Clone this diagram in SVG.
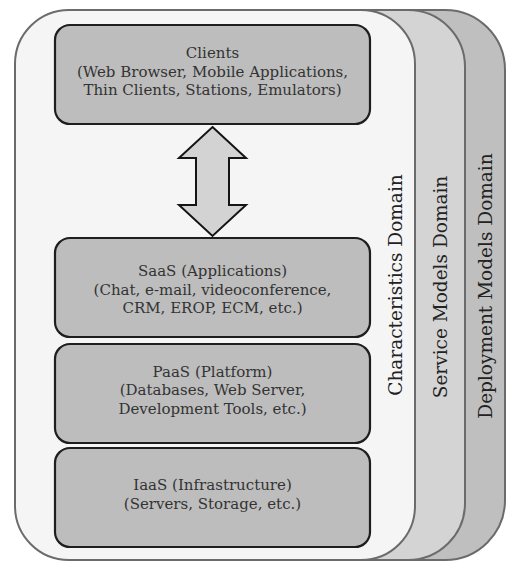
<svg xmlns="http://www.w3.org/2000/svg" width="507" height="562" viewBox="0 0 507 562">
<style>
.panel{stroke:#6b6b6b;stroke-width:2}
.box{fill:#bdbdbd;stroke:#1e1e1e;stroke-width:2.2}
.t{font-family:"DejaVu Serif","Liberation Serif",serif;font-size:15px;fill:#333;text-anchor:middle}
.v{font-family:"DejaVu Serif","Liberation Serif",serif;font-size:18.5px;fill:#222;text-anchor:middle}
</style>
<g id="deployment-domain">
<rect class="panel" x="100" y="10" width="405" height="550" rx="60" ry="60" fill="#bfbfbf"/>
<text class="v" transform="translate(492,286) rotate(-90)">Deployment Models Domain</text>
</g>
<g id="service-domain">
<rect class="panel" x="60" y="10" width="405" height="550" rx="57" ry="57" fill="#d4d4d4"/>
<text class="v" transform="translate(447,287) rotate(-90)">Service Models Domain</text>
</g>
<g id="characteristics-domain">
<rect class="panel" x="15" y="10" width="400" height="550" rx="54" ry="54" fill="#f5f5f5"/>
<text class="v" transform="translate(402,285) rotate(-90)">Characteristics Domain</text>
</g>
<g id="clients">
<rect class="box" x="55" y="25" width="315" height="99" rx="15" ry="15"/>
<text class="t" x="212.5" y="58">Clients</text>
<text class="t" x="212.5" y="77">(Web Browser, Mobile Applications,</text>
<text class="t" x="212.5" y="95">Thin Clients, Stations, Emulators)</text>
</g>
<g id="saas">
<rect class="box" x="55" y="238" width="315" height="99" rx="15" ry="15"/>
<text class="t" x="212.5" y="276">SaaS (Applications)</text>
<text class="t" x="212.5" y="295">(Chat, e-mail, videoconference,</text>
<text class="t" x="212.5" y="313">CRM, EROP, ECM, etc.)</text>
</g>
<g id="paas">
<rect class="box" x="55" y="344" width="315" height="99" rx="15" ry="15"/>
<text class="t" x="212.5" y="377">PaaS (Platform)</text>
<text class="t" x="212.5" y="395">(Databases, Web Server,</text>
<text class="t" x="212.5" y="414">Development Tools, etc.)</text>
</g>
<g id="iaas">
<rect class="box" x="55" y="448" width="315" height="99" rx="15" ry="15"/>
<text class="t" x="212.5" y="490">IaaS (Infrastructure)</text>
<text class="t" x="212.5" y="509">(Servers, Storage, etc.)</text>
</g>
<g id="connectors">
<path d="M212.5,127 L246,158 L229,158 L229,205 L246,205 L212.5,236 L179,205 L196,205 L196,158 L179,158 Z" fill="#d3d3d3" stroke="#141414" stroke-width="2" stroke-linejoin="miter"/>
</g>
</svg>
